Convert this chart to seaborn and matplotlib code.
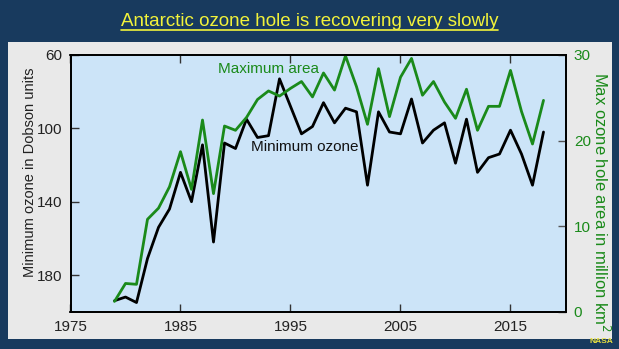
import matplotlib
matplotlib.use("Agg")
import matplotlib.pyplot as plt
import seaborn as sns
import pandas as pd
from matplotlib.patches import Rectangle
from matplotlib.lines import Line2D

# data
years = list(range(1979, 2019))
min_ozone = [194, 192, 195, 171, 154, 144, 124, 140, 109, 162,
             108, 111, 95, 105, 104, 73, 88, 103, 99, 86,
             97, 89, 91, 131, 91, 102, 103, 84, 108, 101,
             97, 119, 95, 124, 116, 114, 101, 114, 131, 102]
max_area = [1.2, 3.3, 3.2, 10.8, 12.1, 14.6, 18.7, 14.3, 22.4, 13.8,
            21.7, 21.2, 22.7, 24.8, 25.8, 25.2, 26.1, 26.9, 25.1, 27.9,
            25.9, 29.9, 26.3, 21.9, 28.4, 22.8, 27.4, 29.6, 25.3, 26.9,
            24.5, 22.6, 26.0, 21.2, 24.0, 24.0, 28.2, 23.4, 19.6, 24.7]
df = pd.DataFrame({"year": years, "ozone": min_ozone, "area": max_area})

navy = "#183a5e"
green = "#1a8a1a"
W, H = 619, 349

sns.set_theme(style="ticks")
plt.rcParams["font.family"] = ["Liberation Sans", "DejaVu Sans"]

fig = plt.figure(figsize=(W / 100, H / 100), dpi=100, facecolor=navy)
# light grey panel behind the axes
fig.patches.append(Rectangle((8 / W, (H - 339) / H), 604 / W, 297 / H,
                             transform=fig.transFigure, facecolor="#e9e9e9",
                             edgecolor="none", zorder=-10))

ax = fig.add_axes([70.5 / W, (H - 311.7) / H, 495 / W, 256.7 / H])
ax.set_facecolor("#cce4f8")
ax2 = ax.twinx()

sns.lineplot(data=df, x="year", y="ozone", ax=ax, color="black", linewidth=2.0)
sns.lineplot(data=df, x="year", y="area", ax=ax2, color=green, linewidth=2.0)

ax.set_xlim(1975, 2020)
ax.set_ylim(200, 60)
ax.set_yticks([60, 100, 140, 180])
ax.set_xticks([1975, 1985, 1995, 2005, 2015])
ax2.set_ylim(0, 30)
ax2.set_yticks([0, 10, 20, 30])

ax.set_xlabel("")
ax.set_ylabel("Minimum ozone in Dobson units", fontsize=10.5, color="#222222")
ax.yaxis.set_label_coords(-0.067, 0.544)
ax2.set_ylabel("Max ozone hole area in million km$^2$", fontsize=12, color=green,
               rotation=270, va="center")
ax2.yaxis.set_label_coords(1.072, 0.427)

ax.tick_params(axis="both", direction="in", length=6, width=1, labelsize=11,
               colors="#333333", labelcolor="#222222", top=True, pad=6)
ax2.tick_params(axis="y", direction="in", length=6, width=1, labelsize=11,
                colors="#555555", labelcolor=green, pad=6)
for a in (ax, ax2):
    for s in a.spines.values():
        s.set_color("black")
        s.set_linewidth(1.3)

ax.text(1993, 67.5, "Maximum area", color=green, fontsize=11, ha="center", va="center")
ax.text(1996.3, 110, "Minimum ozone", color="#111111", fontsize=11, ha="center", va="center")

title = fig.text(0.5, 1 - 22 / H, "Antarctic ozone hole is recovering very slowly",
                 color="#f2f23a", fontsize=13.5, ha="center", va="center",
                 family=["Liberation Sans Narrow", "Liberation Sans", "DejaVu Sans"])
fig.canvas.draw()
bb = title.get_window_extent()
uy = (bb.y0 + 1) / H
fig.lines.append(Line2D([bb.x0 / W, bb.x1 / W], [uy, uy], transform=fig.transFigure,
                        color="#f2f23a", linewidth=1.2))

fig.text(1 - 6 / W, 4 / H, "NASA", color="#e8e040", fontsize=6, ha="right", va="bottom",
         fontweight="bold")

fig.savefig("out.png", dpi=100, facecolor=navy)
